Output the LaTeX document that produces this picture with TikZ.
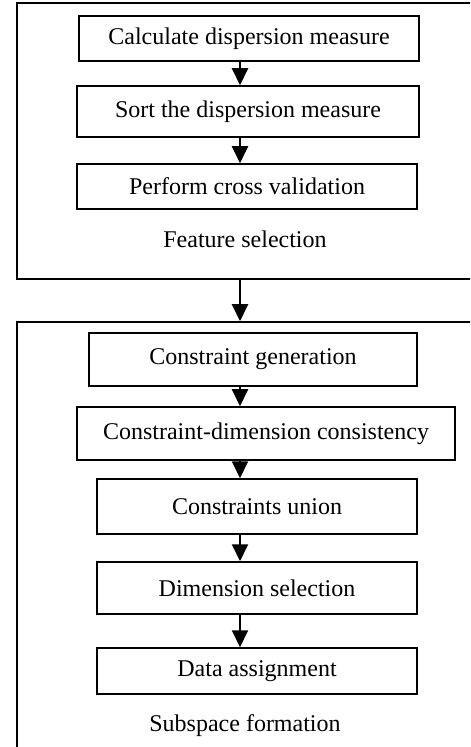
\documentclass[tikz,border=0pt]{standalone}
\usepackage{fontspec}
\setmainfont{Liberation Serif}
\usetikzlibrary{arrows.meta}

\begin{document}
\begin{tikzpicture}[x=0.5pt,y=-0.5pt,>={Triangle[length=8.5pt,width=8pt]},
  stepbox/.style={draw,line width=0.75pt,inner sep=0pt,font=\fontsize{12}{14}\selectfont},
  groupbox/.style={draw,line width=0.75pt,inner sep=0pt},
  caption/.style={font=\fontsize{12}{14}\selectfont},
  flow/.style={->,line width=1pt}]
\useasboundingbox (0,0) rectangle (470,747);
\clip (0,0) rectangle (470,747);
\coordinate (ax) at (240,0);
% feature selection block
\node[groupbox,minimum width=236.5pt,minimum height=138pt] (fsel) at (253.5,141) {};
\node[stepbox,minimum width=170pt,minimum height=22.5pt] (calc) at (249,38.5) {Calculate dispersion measure};
\node[stepbox,minimum width=171pt,minimum height=25.5pt] (sort) at (248,111.5) {Sort the dispersion measure};
\node[stepbox,minimum width=170pt,minimum height=22.5pt] (cval) at (247,186.5) {Perform cross validation};
\node[caption] (fcap) at (245,239) {Feature selection};
\draw[flow] (calc.south -| ax) -- (sort.north -| ax);
\draw[flow] (sort.south -| ax) -- (cval.north -| ax);
% subspace formation block
\node[groupbox,minimum width=236.5pt,minimum height=224pt] (sspc) at (253.5,546) {};
\node[stepbox,minimum width=164pt,minimum height=26.5pt] (cgen) at (253,359.5) {Constraint generation};
\node[stepbox,minimum width=189pt,minimum height=26.5pt] (ccon) at (266,433.5) {Constraint-dimension consistency};
\node[stepbox,minimum width=160pt,minimum height=27.5pt] (cuni) at (257,506.5) {Constraints union};
\node[stepbox,minimum width=160pt,minimum height=26pt] (dsel) at (257,588) {Dimension selection};
\node[stepbox,minimum width=160pt,minimum height=23pt] (dass) at (257,671) {Data assignment};
\node[caption] (scap) at (245,726) {Subspace formation};
\draw[flow] (fsel.south -| ax) -- (sspc.north -| ax);
\draw[flow] (cgen.south -| ax) -- (ccon.north -| ax);
\draw[flow] (ccon.south -| ax) -- (cuni.north -| ax);
\draw[flow] (cuni.south -| ax) -- (dsel.north -| ax);
\draw[flow] (dsel.south -| ax) -- (dass.north -| ax);
\end{tikzpicture}
\end{document}
